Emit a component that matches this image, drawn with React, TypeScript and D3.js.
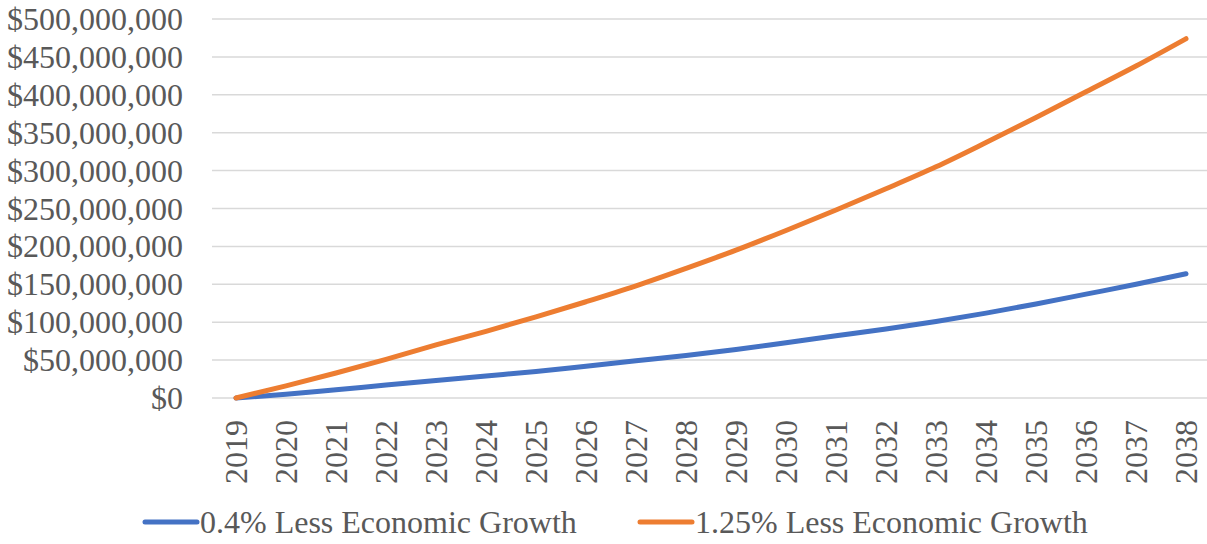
import * as React from "react";
import * as d3 from "d3";

const years = [
  "2019", "2020", "2021", "2022", "2023", "2024", "2025", "2026", "2027", "2028",
  "2029", "2030", "2031", "2032", "2033", "2034", "2035", "2036", "2037", "2038",
];
const lowGrowth = [
  0, 5, 11, 17, 23, 29, 35, 42, 49, 56, 64, 73, 82, 91, 101, 112, 124, 137, 150, 164,
].map((v) => v * 1e6);
const highGrowth = [
  0, 16, 33, 51, 70, 88, 107, 127, 148, 171, 195, 221, 248, 276, 305, 337, 370, 404, 438, 474,
].map((v) => v * 1e6);
const seriesNames = ["0.4% Less Economic Growth", "1.25% Less Economic Growth"];
const seriesColors = ["#4472C4", "#ED7D31"];
const yTicks = d3.range(0, 500000001, 50000000);

const W = 1207;
const H = 544;
const FONT = "'Liberation Serif', 'Times New Roman', serif";
const FS = 32;

export default function App() {
  const x = d3.scaleBand().domain(years).range([211, 1211]);
  const y = d3.scaleLinear().domain([0, 500000000]).range([398, 19]);
  const fmt = (v: number) => "$" + d3.format(",")(v);
  const line = d3
    .line<number>()
    .x((_, i) => (x(years[i]) as number) + x.bandwidth() / 2)
    .y((d) => y(d))
    .curve(d3.curveMonotoneX);

  const series = [lowGrowth, highGrowth];
  const legendX = [145, 640];

  return (
    <svg
      width={W}
      height={H}
      style={{ position: "absolute", left: 0, top: 0, background: "#fff" }}
      fontFamily={FONT}
    >
      {yTicks.map((t) => (
        <g key={t}>
          <line x1={212} x2={1207} y1={y(t)} y2={y(t)} stroke="#d9d9d9" strokeWidth={1.5} />
          <text
            x={183}
            y={y(t)}
            textAnchor="end"
            dominantBaseline="central"
            fontSize={FS}
            fill="#595959"
          >
            {fmt(t)}
          </text>
        </g>
      ))}
      {years.map((yr) => {
        const cx = (x(yr) as number) + x.bandwidth() / 2;
        return (
          <text
            key={yr}
            transform={`translate(${cx},420) rotate(-90)`}
            textAnchor="end"
            dominantBaseline="central"
            fontSize={FS}
            fill="#595959"
          >
            {yr}
          </text>
        );
      })}
      {series.map((s, i) => (
        <path
          key={i}
          d={line(s) || ""}
          fill="none"
          stroke={seriesColors[i]}
          strokeWidth={5}
          strokeLinecap="round"
          strokeLinejoin="round"
        />
      ))}
      {seriesNames.map((n, i) => (
        <g key={n}>
          <line
            x1={legendX[i]}
            x2={legendX[i] + 52}
            y1={522}
            y2={522}
            stroke={seriesColors[i]}
            strokeWidth={5}
            strokeLinecap="round"
          />
          <text
            x={legendX[i] + 55}
            y={522}
            dominantBaseline="central"
            fontSize={FS}
            fill="#595959"
          >
            {n}
          </text>
        </g>
      ))}
    </svg>
  );
}
